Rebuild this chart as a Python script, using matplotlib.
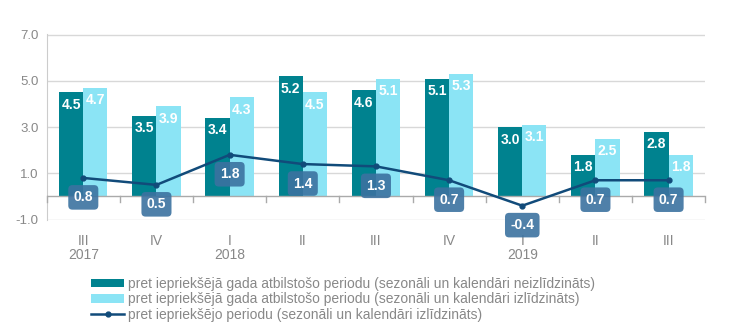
import matplotlib
matplotlib.use("Agg")
import matplotlib.pyplot as plt
import numpy as np

plt.rcParams['font.family'] = ['Liberation Sans', 'DejaVu Sans']

quarters = ["III", "IV", "I", "II", "III", "IV", "I", "II", "III"]
years = ["2017", "", "2018", "", "", "", "2019", "", ""]
unadjusted = [4.5, 3.5, 3.4, 5.2, 4.6, 5.1, 3.0, 1.8, 2.8]
adjusted = [4.7, 3.9, 4.3, 4.5, 5.1, 5.3, 3.1, 2.5, 1.8]
prev_period = [0.8, 0.5, 1.8, 1.4, 1.3, 0.7, -0.4, 0.7, 0.7]
legend_labels = [
    "pret iepriekšējā gada atbilstošo periodu (sezonāli un kalendāri neizlīdzināts)",
    "pret iepriekšējā gada atbilstošo periodu (sezonāli un kalendāri izlīdzināts)",
    "pret iepriekšējo periodu (sezonāli un kalendāri izlīdzināts)",
]

c_dark = "#00828f"
c_light = "#8be4f5"
c_line = "#114b7a"
c_box = "#3c72a0"
c_text = "#888888"

fig = plt.figure(figsize=(7.3, 3.25), dpi=100)
ax = fig.add_axes([0.064, 0.323, 0.902, 0.572])

x = np.arange(len(quarters))
w = 0.33
b1 = ax.bar(x - w / 2, unadjusted, w, color=c_dark, zorder=2, label=legend_labels[0])
b2 = ax.bar(x + w / 2, adjusted, w, color=c_light, zorder=2, label=legend_labels[1])
ln, = ax.plot(x, prev_period, color=c_line, lw=1.8, marker="o", ms=3.5, zorder=4, label=legend_labels[2])

for xi, v in zip(x, unadjusted):
    ax.annotate(f"{v:.1f}", (xi - w / 2, v), xytext=(0, -4), textcoords="offset points",
                ha="center", va="top", color="white", fontsize=10, fontweight="bold", zorder=5)
for xi, v in zip(x, adjusted):
    ax.annotate(f"{v:.1f}", (xi + w / 2, v), xytext=(0, -4), textcoords="offset points",
                ha="center", va="top", color="white", fontsize=10, fontweight="bold", zorder=5)
for xi, v in zip(x, prev_period):
    ax.annotate(f"{v:.1f}", (xi, v), xytext=(0, -14), textcoords="offset points",
                ha="center", va="center", color="white", fontsize=10, fontweight="bold", zorder=6,
                bbox=dict(boxstyle="round,pad=0.38,rounding_size=0.3", fc=c_box, ec="none", alpha=0.9))

ax.set_xlim(-0.5, len(quarters) - 0.5)
ax.set_ylim(-1.02, 7.02)
ax.set_yticks([-1.0, 1.0, 3.0, 5.0, 7.0])
ax.set_yticklabels([f"{t:.1f}" for t in [-1.0, 1.0, 3.0, 5.0, 7.0]])
ax.grid(axis="y", color="#d8d8d8", lw=1, zorder=0)
ax.set_axisbelow(True)
for s in ["top", "right", "bottom"]:
    ax.spines[s].set_visible(False)
ax.spines["left"].set_color("#cccccc")
ax.tick_params(axis="y", length=0, colors=c_text, labelsize=9.5, pad=6)
ax.axhline(0, color="#aaaaaa", lw=1, zorder=3)
for b in np.arange(-0.5, len(quarters), 1.0):
    ax.plot([b, b], [0, -0.22], color="#aaaaaa", lw=1, zorder=3, clip_on=False)

ax.set_xticks(x)
ax.set_xticklabels([q + ("\n" + y if y else "") for q, y in zip(quarters, years)], va="top")
ax.tick_params(axis="x", length=0, colors=c_text, labelsize=10, pad=10)
for t in ax.get_xticklabels():
    t.set_linespacing(1.05)

fig.legend(handles=[b1, b2, ln], labels=legend_labels, loc="upper left",
           bbox_to_anchor=(0.117, 0.166), frameon=False, fontsize=10,
           labelcolor="#888888", handlelength=2.4, handleheight=0.55,
           labelspacing=0.12, handletextpad=0.3, borderaxespad=0)

fig.savefig("out.png", dpi=100)
